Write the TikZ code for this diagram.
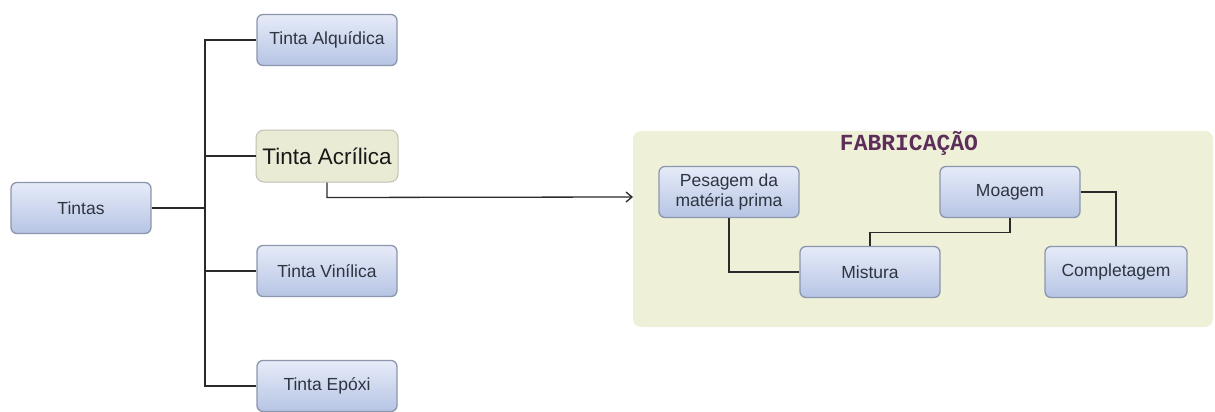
\documentclass[tikz,border=0pt]{standalone}
\usepackage{fontspec}
\setmainfont{Liberation Sans}
\newfontfamily\monob{Liberation Mono}
\usetikzlibrary{arrows.meta}
\definecolor{boxtop}{HTML}{E6EBF8}
\definecolor{boxbot}{HTML}{B6C4E4}
\definecolor{boxline}{HTML}{8C96AC}
\definecolor{txt}{HTML}{2E3440}
\definecolor{panel}{HTML}{EEF0D8}
\definecolor{acril}{HTML}{EAEBD4}
\definecolor{fabc}{HTML}{5E2E5A}
\definecolor{wire}{HTML}{2A2A2A}
\tikzset{
  bluebox/.style={draw=boxline, line width=1.3pt, rounded corners=6pt,
    top color=boxtop, bottom color=boxbot, minimum width=140pt, minimum height=51pt,
    inner sep=2pt, align=center, text=txt, font=\fontsize{17.5}{20.5}\selectfont},
  acrbox/.style={draw=acril!60!gray, line width=1pt, rounded corners=8pt, fill=acril,
    minimum width=142pt, minimum height=52pt, text=black!90, font=\fontsize{22.5}{25}\selectfont},
  wirel/.style={draw=wire, line width=1.3pt},
}
\begin{document}
\begin{tikzpicture}[x=1pt,y=-1pt]
\useasboundingbox (0,0) rectangle (1215,412);
\fill[white] (0,0) rectangle (1215,412);
% panel
\node[fill=panel, rounded corners=8pt, minimum width=580pt, minimum height=196pt, inner sep=0pt] (panel) at (923,229) {};
\node[font=\monob\bfseries\fontsize{23}{25}\selectfont, text=fabc] (fab) at (909,143) {FABRICAÇÃO};
% left nodes
\node[bluebox] (tintas) at (81,208) {Tintas};
\node[bluebox] (alq) at (327,40) {Tinta Alquídica};
\node[acrbox] (acr) at (327,156) {Tinta Acrílica};
\node[bluebox] (vin) at (327,271) {Tinta Vinílica};
\node[bluebox] (epo) at (327,386) {Tinta Epóxi};
\coordinate (trunk) at (205,208);
\draw[wirel] (tintas.east) -- (trunk);
\draw[wirel] (alq.west) -| (trunk) |- (epo.west);
\draw[wirel] (acr.west) -- (acr.west -| trunk);
\draw[wirel] (vin.west) -- (vin.west -| trunk);
% fabrication nodes
\node[bluebox] (pes) at (729,192) {Pesagem da\\matéria prima};
\node[bluebox] (moa) at (1010,192) {Moagem};
\node[bluebox] (mis) at (870,272) {Mistura};
\node[bluebox, minimum width=142pt] (com) at (1116,272) {Completagem};
\coordinate (arrowend) at (633,197);
\draw[wirel, -{Straight Barb[length=6pt,width=10pt]}] (acr.south) -- ++(0,15) -- (arrowend);
\draw[wirel] (pes.south) |- (mis.west);
\draw[wirel] (moa.south) -- ++(0,14) -| (mis.north);
\draw[wirel] (moa.east) -| (com.north);
\end{tikzpicture}
\end{document}
